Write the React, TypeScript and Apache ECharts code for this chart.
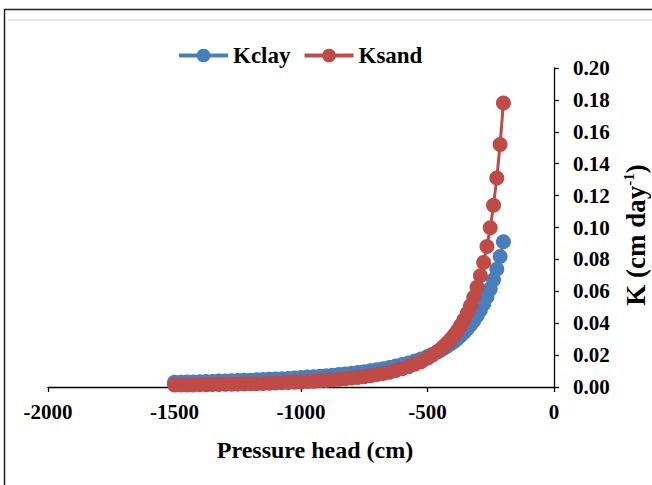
import React, { useEffect, useRef } from "react";
import * as echarts from "echarts";

// Pressure head (cm)
const pressureHead = [
  -200, -213, -226, -239, -252, -265, -278, -291, -304, -317, -330, -343, -356, -369, -382, -395, -408, -421, -434, -447, -460,
  -480,
  -500, -525, -550, -575, -600, -625, -650, -675, -700, -725, -750, -775, -800, -825, -850, -875, -900, -925, -950, -975,
  -1000, -1025, -1050, -1075, -1100, -1125, -1150, -1175, -1200, -1225, -1250, -1275, -1300, -1325, -1350, -1375, -1400,
  -1425, -1450, -1475, -1500,
];

// K clay (cm day-1)
const kClay = [
  0.0910, 0.0818, 0.0739, 0.0672, 0.0614, 0.0564, 0.0520, 0.0481, 0.0447, 0.0416, 0.0388, 0.0364, 0.0341, 0.0321, 0.0303,
  0.0286, 0.0271, 0.0257, 0.0244, 0.0232, 0.0221,
  0.0205,
  0.0192, 0.0176, 0.0163, 0.0151, 0.0141, 0.0131, 0.0123, 0.0115, 0.0108, 0.0102, 0.0096, 0.0091, 0.0086, 0.0082, 0.0078,
  0.0074, 0.0071, 0.0067, 0.0064, 0.0062, 0.0059, 0.0057, 0.0054, 0.0052, 0.0050, 0.0048, 0.0047, 0.0045, 0.0043, 0.0042,
  0.0040, 0.0039, 0.0038, 0.0037, 0.0035, 0.0034, 0.0033, 0.0032, 0.0031, 0.0030, 0.0030,
];

// K sand (cm day-1)
const kSand = [
  0.1780, 0.1521, 0.1311, 0.1140, 0.0999, 0.0881, 0.0781, 0.0697, 0.0625, 0.0563, 0.0509, 0.0462, 0.0421, 0.0385, 0.0353,
  0.0325, 0.0299, 0.0277, 0.0257, 0.0238, 0.0222,
  0.0200,
  0.0180, 0.0159, 0.0142, 0.0127, 0.0114, 0.0103, 0.0093, 0.0085, 0.0078, 0.0071, 0.0065, 0.0060, 0.0056, 0.0051, 0.0048,
  0.0044, 0.0041, 0.0039, 0.0036, 0.0034, 0.0032, 0.0030, 0.0028, 0.0027, 0.0025, 0.0024, 0.0022, 0.0021, 0.0020, 0.0019,
  0.0018, 0.0017, 0.0017, 0.0016, 0.0015, 0.0014, 0.0014, 0.0013, 0.0013, 0.0012, 0.0012,
];

const seriesNames = ["Kclay", "Ksand"];
const xTitle = "Pressure head (cm)";

const FONT = "'Liberation Serif', 'Times New Roman', serif";
const BLUE = "#4A7EBB";
const RED = "#BE4B48";

export default function App() {
  const ref = useRef<HTMLDivElement>(null);

  useEffect(() => {
    document.body.style.margin = "0";
    if (!ref.current) return;
    const chart = echarts.init(ref.current, undefined, { renderer: "svg" });
    const clayData = pressureHead.map((h, i) => [h, kClay[i]]);
    const sandData = pressureHead.map((h, i) => [h, kSand[i]]);

    chart.setOption({
      animation: false,
      backgroundColor: "#ffffff",
      grid: { left: 48, right: 98, top: 68, bottom: 98, containLabel: false },
      legend: {
        left: 172,
        top: 39,
        itemWidth: 49,
        itemHeight: 17,
        itemGap: 12,
        data: seriesNames,
        lineStyle: { width: 4 },
        textStyle: { fontFamily: FONT, fontWeight: "bold", fontSize: 23, color: "#000" },
      },
      xAxis: {
        type: "value",
        min: -2000,
        max: 0,
        interval: 500,
        axisLine: { show: true, onZero: false, lineStyle: { color: "#000", width: 1.3 } },
        axisTick: { show: true, inside: false, length: 5, lineStyle: { color: "#000", width: 1.3 } },
        axisLabel: {
          margin: 14,
          fontFamily: FONT,
          fontWeight: "bold",
          fontSize: 21,
          color: "#000",
          formatter: (v: number) => String(v),
        },
        splitLine: { show: false },
      },
      yAxis: {
        type: "value",
        position: "right",
        min: 0,
        max: 0.2,
        interval: 0.02,
        axisLine: { show: true, lineStyle: { color: "#000", width: 1.3 } },
        axisTick: { show: true, inside: false, length: 5, lineStyle: { color: "#000", width: 1.3 } },
        axisLabel: {
          margin: 19,
          fontFamily: FONT,
          fontWeight: "bold",
          fontSize: 21,
          color: "#000",
          formatter: (v: number) => v.toFixed(2),
        },
        splitLine: { show: false },
      },
      series: [
        {
          name: seriesNames[0],
          type: "line",
          data: clayData,
          symbol: "circle",
          symbolSize: 15,
          showSymbol: true,
          lineStyle: { color: BLUE, width: 3 },
          itemStyle: { color: BLUE },
          z: 2,
        },
        {
          name: seriesNames[1],
          type: "line",
          data: sandData,
          symbol: "circle",
          symbolSize: 15,
          showSymbol: true,
          lineStyle: { color: RED, width: 3 },
          itemStyle: { color: RED },
          z: 3,
        },
      ],
      graphic: [
        {
          type: "rect",
          shape: { x: 4.5, y: 9.5, width: 700, height: 600 },
          style: { fill: "none", stroke: "#222", lineWidth: 1.5 },
          silent: true,
        },
        {
          type: "line",
          shape: { x1: 8, y1: 20, x2: 652, y2: 20 },
          style: { stroke: "#e6e6e6", lineWidth: 2 },
          silent: true,
        },
        {
          type: "text",
          x: 315,
          y: 450,
          style: {
            text: xTitle,
            align: "center",
            verticalAlign: "middle",
            fontFamily: FONT,
            fontWeight: "bold",
            fontSize: 24,
            fill: "#000",
          },
        },
        {
          type: "text",
          x: 636,
          y: 235,
          rotation: Math.PI / 2,
          style: {
            text: "{a|K (cm day}{b|-1}{a|)}",
            align: "center",
            verticalAlign: "middle",
            rich: {
              a: { fontFamily: FONT, fontWeight: "bold", fontSize: 27, fill: "#000", lineHeight: 30 },
              b: {
                fontFamily: FONT,
                fontWeight: "bold",
                fontSize: 15,
                fill: "#000",
                lineHeight: 30,
                verticalAlign: "top",
              },
            },
          },
        },
      ],
    });
    return () => chart.dispose();
  }, []);

  return <div ref={ref} style={{ width: 652, height: 485 }} />;
}
